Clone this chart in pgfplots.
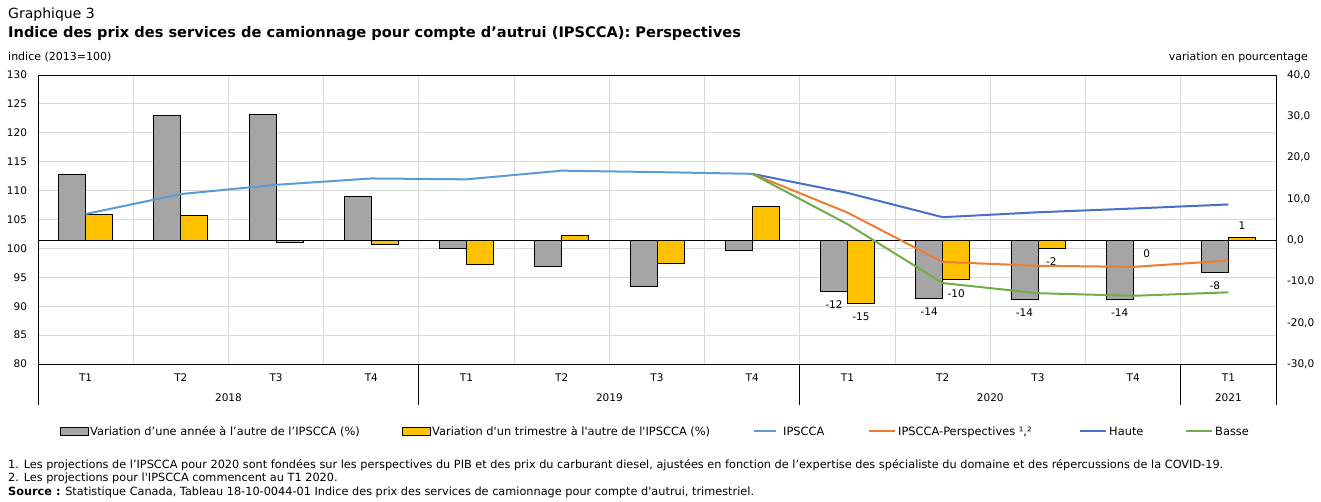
\documentclass[border=0pt]{standalone}
\usepackage{pgfplots}
\pgfplotsset{compat=1.18}
\usepackage{fontspec}
\setmainfont{DejaVu Sans}
\definecolor{barg}{HTML}{A5A5A5}
\definecolor{bary}{HTML}{FFC000}
\definecolor{gridc}{HTML}{D9D9D9}
\definecolor{cipscca}{HTML}{5B9BD5}
\definecolor{cpersp}{HTML}{ED7D31}
\definecolor{chaute}{HTML}{4472C4}
\definecolor{cbasse}{HTML}{70AD47}
\newcommand{\tickfont}{\fontsize{10.5}{12}\selectfont}
\newcommand{\legfont}{\fontsize{11.4}{13}\selectfont}
\newcommand{\axtfont}{\fontsize{11}{13}\selectfont}
\newcommand{\fnfont}{\fontsize{11.3}{13}\selectfont}
\pgfplotsset{
  common/.style={at={(38pt,137pt)}, anchor=south west, scale only axis,
    width=1238pt, height=289pt, xmin=-0.5, xmax=12.5, clip=false},
  gbar/.style={ybar, bar width=27pt, bar shift=-13.5pt, fill=barg, draw=black, line width=0.8pt},
  ybarr/.style={ybar, bar width=27pt, bar shift=13.5pt, fill=bary, draw=black, line width=0.8pt},
  lbl/.style={point meta=explicit symbolic, nodes near coords,
    every node near coord/.append style={font=\tickfont, black}},
}
\begin{document}
\begin{tikzpicture}[x=1pt,y=1pt]
\path[use as bounding box] (0,0) rectangle (1321,501);
% ---- base axis: grid, frame, left ticks, categories
\begin{axis}[common,
  ymin=80, ymax=130, ytick={80,85,...,130},
  xtick={0,...,12}, xticklabels={T1,T2,T3,T4,T1,T2,T3,T4,T1,T2,T3,T4,T1},
  minor xtick={0.5,1.5,...,11.5},
  ymajorgrids, xminorgrids,
  major grid style={draw=gridc, line width=0.9pt},
  minor grid style={draw=gridc, line width=0.9pt},
  major tick length=0pt, minor tick length=0pt,
  axis line style={black, line width=1pt},
  tick label style={font=\tickfont, /pgf/number format/assume math mode=true},
  yticklabel style={xshift=-7.5pt},
  xticklabel style={yshift=-6.5pt},
]
\pgfplotsinvokeforeach{-0.5,3.5,7.5,11.5,12.5}{
  \draw[black, line width=1pt] (axis cs:#1,80) -- ++(0pt,-41pt);
}
\node[font=\tickfont] at (axis cs:1.5,80) [yshift=-34pt] {2018};
\node[font=\tickfont] at (axis cs:5.5,80) [yshift=-34pt] {2019};
\node[font=\tickfont] at (axis cs:9.5,80) [yshift=-34pt] {2020};
\node[font=\tickfont] at (axis cs:12,80) [yshift=-34pt] {2021};
\end{axis}
% ---- bars on right axis
\begin{axis}[common,
  ymin=-30, ymax=40, ytick={-30,-20,...,40},
  yticklabel pos=right, xtick=\empty,
  axis line style={draw=none}, major tick length=0pt,
  yticklabel style={anchor=west, xshift=7.5pt, font=\tickfont,
    /pgf/number format/.cd, fixed, fixed zerofill, precision=1, use comma, assume math mode=true},
]
\addplot[gbar] coordinates {(0,16.0) (1,30.2) (2,30.5) (3,10.6) (4,-2.0) (5,-6.3) (6,-11.2) (7,-2.6)};
\addplot[ybarr] coordinates {(0,6.3) (1,6.0) (2,-0.5) (3,-1.0) (4,-5.8) (5,1.2) (6,-5.6) (7,8.2)};
\addplot[gbar, lbl, nodes near coords align={below},
  every node near coord/.append style={yshift=-6pt, xshift=-13.5pt}]
  coordinates {(8,-12.3)[-12] (9,-14.0)[-14] (10,-14.3)[-14] (11,-14.3)[-14] (12,-7.8)[-8]};
\addplot[ybarr, lbl, nodes near coords align={below},
  every node near coord/.append style={yshift=-6pt, xshift=13.5pt}]
  coordinates {(8,-15.3)[-15] (9,-9.6)[-10] (10,-2.0)[-2] (11,0)[0]};
\addplot[ybarr, lbl, nodes near coords align={above},
  every node near coord/.append style={yshift=4pt, xshift=13.5pt}]
  coordinates {(12,0.7)[1]};
\draw[black, line width=1pt] (axis cs:-0.5,0) -- (axis cs:12.5,0);
\end{axis}
% ---- lines on left axis
\begin{axis}[common, ymin=80, ymax=130, hide axis]
\addplot[cipscca, line width=2pt, mark=none] coordinates {(0,105.95) (1,109.4) (2,111.0) (3,112.1) (4,111.95) (5,113.45) (6,113.2) (7,112.9)};
\addplot[chaute, line width=2pt, mark=none] coordinates {(7,112.9) (8,109.6) (9,105.4) (10,106.25) (11,106.9) (12,107.6)};
\addplot[cpersp, line width=2pt, mark=none] coordinates {(7,112.9) (8,106.2) (9,97.65) (10,97.0) (11,96.8) (12,97.9)};
\addplot[cbasse, line width=2pt, mark=none] coordinates {(7,112.9) (8,104.2) (9,94.0) (10,92.25) (11,91.8) (12,92.4)};
\end{axis}
% ---- titles
\node[anchor=base west, inner sep=0, font=\fontsize{14}{16}\selectfont] at (8,482) {Graphique 3};
\node[anchor=base west, inner sep=0, font=\fontsize{14.6}{16}\selectfont\bfseries] at (8,463.5) {Indice des prix des services de camionnage pour compte d’autrui (IPSCCA): Perspectives};
\node[anchor=base west, inner sep=0, font=\axtfont] at (8,440) {indice (2013=100)};
\node[anchor=base east, inner sep=0, font=\axtfont] at (1308,440) {variation en pourcentage};
% ---- legend
\filldraw[fill=barg, draw=black, line width=0.8pt] (60,66) rectangle (88,74);
\node[anchor=base west, inner sep=0, font=\legfont] at (90,66) {Variation d’une année à l’autre de l’IPSCCA (\%)};
\filldraw[fill=bary, draw=black, line width=0.8pt] (402,66) rectangle (430,74);
\node[anchor=base west, inner sep=0, font=\legfont] at (432,66) {Variation d\textquotesingle un trimestre à l\textquotesingle autre de l\textquotesingle IPSCCA (\%)};
\draw[cipscca, line width=2.5pt] (754,70) -- (776,70);
\node[anchor=base west, inner sep=0, font=\legfont] at (783,66) {IPSCCA};
\draw[cpersp, line width=2.5pt] (869,70) -- (895,70);
\node[anchor=base west, inner sep=0, font=\legfont] at (898,66) {IPSCCA-Perspectives ¹,²};
\draw[chaute, line width=2.5pt] (1080,70) -- (1106,70);
\node[anchor=base west, inner sep=0, font=\legfont] at (1109,66) {Haute};
\draw[cbasse, line width=2.5pt] (1186,70) -- (1212,70);
\node[anchor=base west, inner sep=0, font=\legfont] at (1215,66) {Basse};
% ---- footnotes
\node[anchor=base west, inner sep=0, font=\fnfont] at (8,33) {1. Les projections de l’IPSCCA pour 2020 sont fondées sur les perspectives du PIB et des prix du carburant diesel, ajustées en fonction de l’expertise des spécialiste du domaine et des répercussions de la COVID-19.};
\node[anchor=base west, inner sep=0, font=\fnfont] at (8,19.5) {2. Les projections pour l\textquotesingle IPSCCA commencent au T1 2020.};
\node[anchor=base west, inner sep=0, font=\fnfont] at (8,6) {\textbf{Source :} Statistique Canada, Tableau 18-10-0044-01 Indice des prix des services de camionnage pour compte d\textquotesingle autrui, trimestriel.};
\end{tikzpicture}
\end{document}
